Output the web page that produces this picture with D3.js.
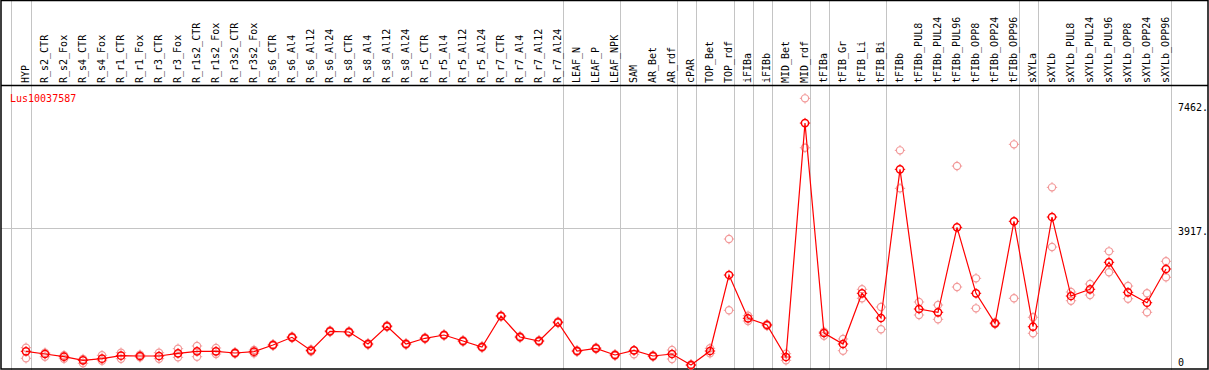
<!DOCTYPE html>
<html><head><meta charset="utf-8">
<script src="https://cdn.jsdelivr.net/npm/d3@7"></script>
<style>body{margin:0;background:#fff}svg{display:block}</style>
</head><body><svg id="c" width="1209" height="370"></svg>
<script>
const categories = ["HYP","R_s2_CTR","R_s2_Fox","R_s4_CTR","R_s4_Fox","R_r1_CTR","R_r1_Fox","R_r3_CTR","R_r3_Fox","R_r1s2_CTR","R_r1s2_Fox","R_r3s2_CTR","R_r3s2_Fox","R_s6_CTR","R_s6_Al4","R_s6_Al12","R_s6_Al24","R_s8_CTR","R_s8_Al4","R_s8_Al12","R_s8_Al24","R_r5_CTR","R_r5_Al4","R_r5_Al12","R_r5_Al24","R_r7_CTR","R_r7_Al4","R_r7_Al12","R_r7_Al24","LEAF_N","LEAF_P","LEAF_NPK","SAM","AR_Bet","AR_rdf","cPAR","TOP_Bet","TOP_rdf","iFIBa","iFIBb","MID_Bet","MID_rdf","tFIBa","tFIB_Gr","tFIB_Li","tFIB_Bi","tFIBb","tFIBb_PUL8","tFIBb_PUL24","tFIBb_PUL96","tFIBb_OPP8","tFIBb_OPP24","tFIBb_OPP96","sXYLa","sXYLb","sXYLb_PUL8","sXYLb_PUL24","sXYLb_PUL96","sXYLb_OPP8","sXYLb_OPP24","sXYLb_OPP96"];
const meanValues = [418,341,264,162,208,293,284,284,361,418,418,370,407,597,816,441,987,967,625,1129,625,788,881,711,540,1422,824,711,1242,426,503,313,446,284,341,28,426,2587,1356,1166,256,6908,938,625,2067,1365,5592,1621,1527,3943,2067,1214,4114,1117,4236,1990,2181,2948,2095,1800,2758];
const rep1 = [520,378,304,199,304,378,321,378,492,569,512,390,455,620,840,470,1010,990,650,1150,650,810,900,735,565,1440,850,735,1265,450,525,335,446,305,455,50,503,3611,1430,1190,350,7611,975,768,2181,1677,6132,1820,1734,5686,2493,1240,6303,1385,5080,2104,2331,3261,2274,2067,2977];
const rep2 = [219,264,208,77,151,208,247,208,247,264,341,350,361,575,795,415,965,945,600,1108,600,765,860,690,515,1400,800,690,1220,405,480,290,333,265,199,10,361,1584,1280,1140,162,6206,861,435,1925,1043,5052,1450,1328,2246,1640,1190,1925,930,3383,1856,2019,2664,1913,1527,2522];
const tickValues = [0, 3917, 7462];
const tickLabels = ["0", "3917.", "7462."];
const gridLines = [3917];
const groupEnds = ["HYP","R_r7_Al24","LEAF_NPK","AR_rdf","cPAR","TOP_rdf","iFIBa","iFIBb","MID_rdf","tFIBa","tFIB_Bi","tFIBb_OPP96","sXYLa","sXYLb_OPP96"];
const geneName = "Lus10037587";

const svg = d3.select("#c");
const W = 1209, H = 370;
const x = d3.scalePoint().domain(categories).range([26, 1166]);
const y = d3.scaleLinear().domain([0, 7462]).range([366, 103.6]);
const step = x.step();
const font = "'DejaVu Sans Mono', monospace";

// vertical group grid lines
const gx = [x(categories[0]) - step + 3.7].concat(groupEnds.map(c => x(c) + 4.7));
svg.append("g").selectAll("line").data(gx).join("line")
  .attr("x1", d => Math.round(d) + 0.5).attr("x2", d => Math.round(d) + 0.5)
  .attr("y1", 0).attr("y2", H)
  .attr("stroke", "#c4c4c4").attr("stroke-width", 1);

// horizontal grid line
svg.append("g").selectAll("line").data(gridLines).join("line")
  .attr("x1", 1).attr("x2", Math.round(x(categories[categories.length-1]) + 4.7) + 0.5)
  .attr("y1", d => Math.round(y(d)) + 0.5).attr("y2", d => Math.round(y(d)) + 0.5)
  .attr("stroke", "#c4c4c4").attr("stroke-width", 1);

// frame
svg.append("rect").attr("x", 1).attr("y", 0.5).attr("width", W - 2).attr("height", H - 1.5)
  .attr("fill", "none").attr("stroke", "#000").attr("stroke-width", 1.5);
svg.append("line").attr("x1", 1).attr("x2", W - 1).attr("y1", 85.5).attr("y2", 85.5)
  .attr("stroke", "#000").attr("stroke-width", 1.5);

// category labels
svg.append("g").selectAll("text").data(categories).join("text")
  .attr("transform", d => `translate(${Math.round(x(d)) + 3},83) rotate(-90)`)
  .attr("font-family", font).attr("font-size", "10px").attr("fill", "#000")
  .text(d => d);

// gene name
svg.append("text").attr("x", 10).attr("y", 101.5)
  .attr("font-family", font).attr("font-size", "10px").attr("fill", "#ff0000")
  .text(geneName);

// right tick labels
svg.append("g").selectAll("text").data(tickValues).join("text")
  .attr("x", 1178).attr("y", (d, i) => d === 0 ? 366 : y(d) + 7)
  .attr("font-family", font).attr("font-size", "10px").attr("fill", "#000")
  .text((d, i) => tickLabels[i]);

function marker(g, cx, cy, color, sw) {
  g.append("circle").attr("cx", cx).attr("cy", cy).attr("r", 3.6)
    .attr("fill", "none").attr("stroke", color).attr("stroke-width", sw);
  const r1 = 3.6, r2 = 5.2;
  [[0,-1],[0,1],[-1,0],[1,0]].forEach(([dx,dy]) => {
    g.append("line").attr("x1", cx + dx*r1).attr("y1", cy + dy*r1)
      .attr("x2", cx + dx*r2).attr("y2", cy + dy*r2)
      .attr("stroke", color).attr("stroke-width", 1);
  });
}

// replicates
const repG = svg.append("g");
categories.forEach((c, i) => {
  marker(repG, x(c), y(rep1[i]), "#f29a9a", 1.2);
  marker(repG, x(c), y(rep2[i]), "#f29a9a", 1.2);
});

// mean line
svg.append("path").datum(meanValues)
  .attr("d", d3.line().x((d, i) => x(categories[i])).y(d => y(d)))
  .attr("fill", "none").attr("stroke", "#ff0000").attr("stroke-width", 1.2);

// mean markers
const mG = svg.append("g");
categories.forEach((c, i) => marker(mG, x(c), y(meanValues[i]), "#ff0000", 1.5));
</script></body></html>
